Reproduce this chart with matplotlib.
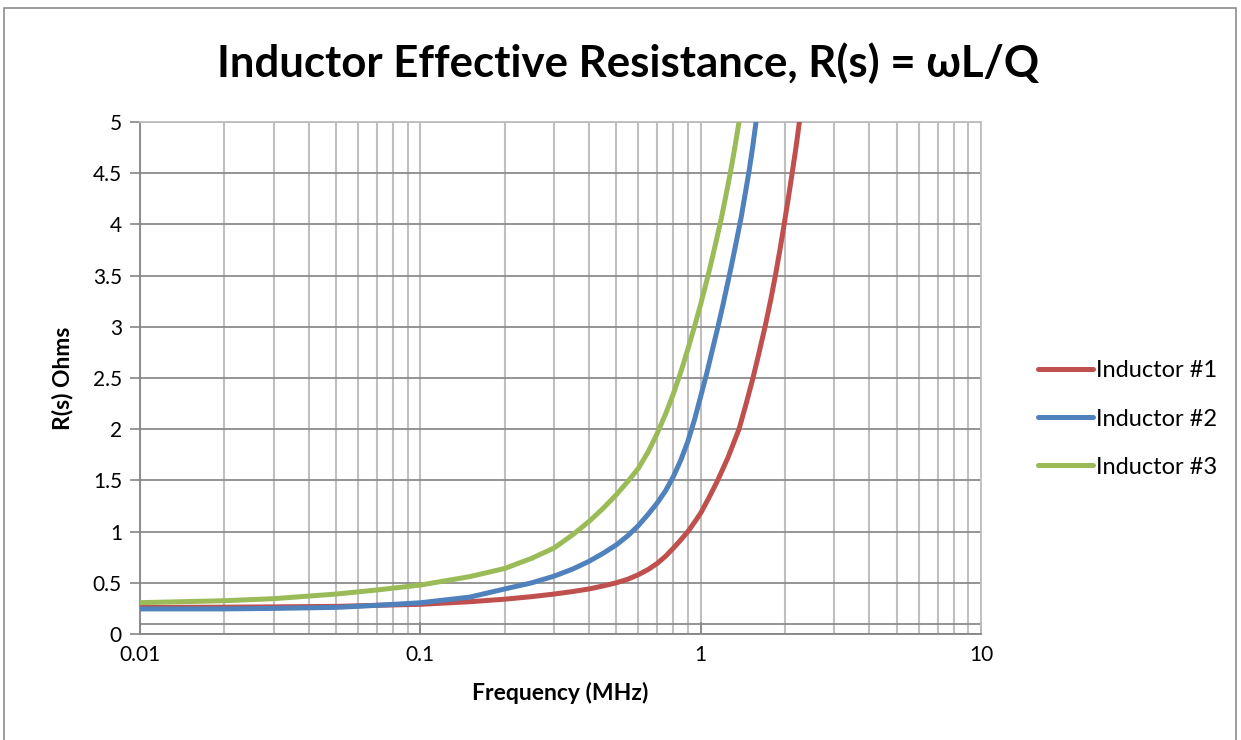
import matplotlib
matplotlib.use("Agg")
import matplotlib.pyplot as plt
from matplotlib.ticker import LogLocator, FixedLocator, NullFormatter, FuncFormatter
from matplotlib.patches import Rectangle

# ---- data ----
freq_1 = [0.01, 0.02, 0.03, 0.05, 0.07, 0.1, 0.15, 0.2, 0.25, 0.3, 0.35, 0.4, 0.45, 0.5, 0.55,
          0.6, 0.65, 0.7, 0.75, 0.8, 0.85, 0.9, 0.95, 1.0, 1.07, 1.15, 1.25, 1.37, 1.45, 1.53,
          1.61, 1.70, 1.78, 1.85, 1.92, 1.985, 2.05, 2.12, 2.19, 2.25]
r_1 = [0.26, 0.262, 0.265, 0.27, 0.28, 0.29, 0.315, 0.34, 0.365, 0.39, 0.415, 0.44, 0.47, 0.50, 0.535,
       0.58, 0.63, 0.69, 0.76, 0.84, 0.92, 1.0, 1.09, 1.18, 1.33, 1.50, 1.72, 2.0, 2.24, 2.48,
       2.73, 3.01, 3.27, 3.51, 3.76, 4.0, 4.24, 4.5, 4.76, 5.0]

freq_2 = [0.01, 0.02, 0.03, 0.05, 0.07, 0.1, 0.15, 0.2, 0.25, 0.3, 0.35, 0.4, 0.45, 0.5, 0.55,
          0.6, 0.65, 0.7, 0.75, 0.8, 0.85, 0.9, 0.95, 1.0, 1.05, 1.1, 1.157, 1.2, 1.24, 1.279,
          1.34, 1.397, 1.44, 1.488, 1.53, 1.576]
r_2 = [0.245, 0.245, 0.25, 0.26, 0.28, 0.305, 0.36, 0.44, 0.50, 0.565, 0.635, 0.71, 0.79, 0.87, 0.96,
       1.06, 1.17, 1.28, 1.40, 1.54, 1.70, 1.88, 2.09, 2.32, 2.54, 2.77, 3.02, 3.21, 3.39, 3.56,
       3.83, 4.08, 4.29, 4.52, 4.74, 5.0]

freq_3 = [0.01, 0.02, 0.03, 0.05, 0.07, 0.1, 0.15, 0.2, 0.25, 0.3, 0.35, 0.4, 0.45, 0.5, 0.55,
          0.6, 0.65, 0.7, 0.75, 0.8, 0.85, 0.9, 0.95, 1.0, 1.04, 1.08, 1.13, 1.185, 1.23, 1.279,
          1.32, 1.37]
r_3 = [0.306, 0.325, 0.345, 0.39, 0.43, 0.478, 0.56, 0.64, 0.74, 0.84, 0.97, 1.10, 1.23, 1.36, 1.49,
       1.62, 1.78, 1.96, 2.15, 2.35, 2.56, 2.78, 3.0, 3.22, 3.40, 3.58, 3.81, 4.06, 4.28, 4.52,
       4.73, 5.0]

series_names = ["Inductor #1", "Inductor #2", "Inductor #3"]
series_colors = ["#C0504D", "#4F81BD", "#9BBB59"]

x_ticks = [0.01, 0.1, 1, 10]
x_tick_labels = ["0.01", "0.1", "1", "10"]
y_ticks = [0, 0.5, 1, 1.5, 2, 2.5, 3, 3.5, 4, 4.5, 5]
y_tick_labels = ["0", "0.5", "1", "1.5", "2", "2.5", "3", "3.5", "4", "4.5", "5"]
extra_ref_line = 0.1

title = "Inductor Effective Resistance, R(s) = \u03c9L/Q"
x_label = "Frequency (MHz)"
y_label = "R(s) Ohms"

FONT = ["Lato", "DejaVu Sans"]
plt.rcParams["font.family"] = FONT

W, H = 1241, 740
fig = plt.figure(figsize=(W / 100, H / 100), dpi=100)
fig.patch.set_facecolor("white")

# outer chart border
fig.add_artist(Rectangle((4 / W, -0.05), (1236 - 4) / W, (H - 8) / H + 0.05,
                         transform=fig.transFigure, fill=False,
                         edgecolor="#8C8C8C", linewidth=1.2))

ax = fig.add_axes([140 / W, (H - 634) / H, (981 - 140) / W, (634 - 122) / H])

for fx, ry, name, col in zip([freq_1, freq_2, freq_3], [r_1, r_2, r_3],
                             series_names, series_colors):
    ax.plot(fx, ry, color=col, lw=3.6, label=name, solid_capstyle="round",
            solid_joinstyle="round", zorder=3)

ax.set_xscale("log")
ax.set_xlim(x_ticks[0], x_ticks[-1])
ax.set_ylim(y_ticks[0], y_ticks[-1])

ax.xaxis.set_major_locator(FixedLocator(x_ticks))
ax.xaxis.set_major_formatter(FuncFormatter(lambda v, p: x_tick_labels[x_ticks.index(v)] if v in x_ticks else ""))
ax.xaxis.set_minor_locator(LogLocator(base=10, subs=range(2, 10), numticks=20))
ax.xaxis.set_minor_formatter(NullFormatter())
ax.set_yticks(y_ticks)
ax.set_yticklabels(y_tick_labels)

ax.grid(True, which="major", axis="y", color="#8C8C8C", lw=1.3, zorder=1)
ax.grid(True, which="both", axis="x", color="#BFBFBF", lw=1.5, zorder=1)
ax.axhline(extra_ref_line, color="#8C8C8C", lw=1.3, zorder=1)
ax.set_axisbelow(True)

for s in ["left", "bottom"]:
    ax.spines[s].set_color("#868686")
    ax.spines[s].set_linewidth(1.3)
for s in ["top", "right"]:
    ax.spines[s].set_color("#BFBFBF")
    ax.spines[s].set_linewidth(1.3)

ax.tick_params(axis="y", which="major", direction="out", length=7, width=1.2,
               color="#868686", labelsize=15, pad=6)
ax.tick_params(axis="x", which="major", direction="in", length=9, width=1.2,
               color="#868686", labelsize=15, pad=8)
ax.tick_params(axis="x", which="minor", length=0)

ax.set_xlabel(x_label, fontsize=16.5, fontweight="bold", labelpad=12)
ax.set_ylabel(y_label, fontsize=16.5, fontweight="bold", labelpad=14)

fig.text(0.506, (H - 63) / H, title, ha="center", va="center",
         fontsize=31.5, fontweight="bold", family=FONT)

leg = ax.legend(loc="center left", bbox_to_anchor=(1029 / W, (H - 419) / H),
                bbox_transform=fig.transFigure, frameon=False, fontsize=17,
                handlelength=2.3, handletextpad=0.12, labelspacing=1.15,
                borderaxespad=0)

fig.savefig("out.png", dpi=100, facecolor="white")
